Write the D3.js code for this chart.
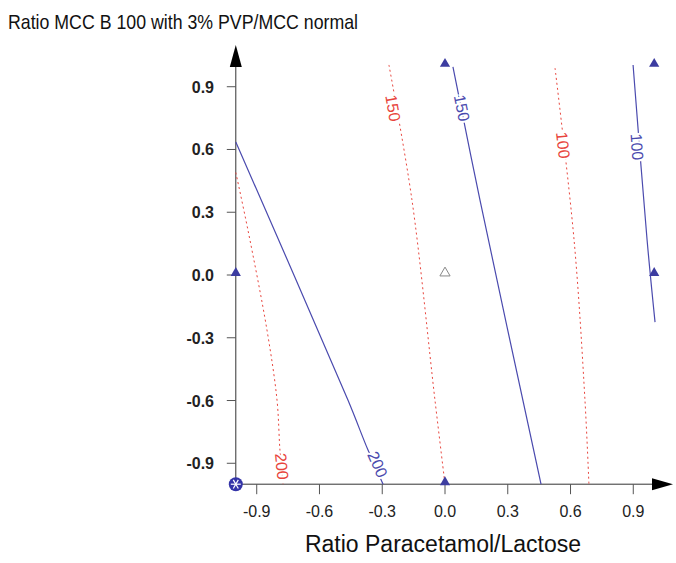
<!DOCTYPE html>
<html>
<head>
<meta charset="utf-8">
<script src="https://cdn.jsdelivr.net/npm/d3@7"></script>
<style>
  body { margin: 0; background: #fff; }
  svg { display: block; font-family: "Liberation Sans", Arial, sans-serif; }
</style>
</head>
<body>
<div id="chart"></div>
<script>
// Axis ticks
const xTicks = [-0.9, -0.6, -0.3, 0.0, 0.3, 0.6, 0.9];
const yTicks = [-0.9, -0.6, -0.3, 0.0, 0.3, 0.6, 0.9];

// Contour lines: [x, y] in data units
const blue200 = [[-1.0, 0.636], [-0.464, -0.598], [-0.368, -0.837], [-0.296, -1.0]];
const blue150 = [[0.038, 0.995], [0.167, 0.359], [0.459, -1.0]];
const blue100 = [[0.899, 1.004], [0.966, 0.167], [1.004, -0.225]];
const red200 = [[-1.0, 0.49], [-0.942, 0.215], [-0.851, -0.263], [-0.803, -0.598], [-0.789, -0.837], [-0.774, -1.0]];
const red150 = [[-0.268, 1.004], [-0.158, 0.359], [-0.048, -0.598], [0.0, -1.0]];
const red100 = [[0.526, 0.989], [0.617, 0.167], [0.669, -0.598], [0.688, -1.0]];

// Contour labels: value, position on the line
const blueLabels = [["200", -0.322, -0.905], ["150", 0.081, 0.798], ["100", 0.918, 0.612]];
const redLabels = [["200", -0.78, -0.915], ["150", -0.249, 0.798], ["100", 0.564, 0.621]];

// Design points
const filledPoints = [[0, 1], [1, 1], [1, 0], [-1, 0], [0, -1]];
const openPoints = [[0, 0]];
const centrePoints = [[-1, -1]];

document.addEventListener('DOMContentLoaded', function() {
    const W = 676, H = 563;
    const blue = "#4a4aae", red = "#e8443c";
    const fmt = d => d3.format(".1f")(d).replace("\u2212", "-");

    const svg = d3.select("#chart").append("svg")
        .attr("width", W).attr("height", H);

    const x = d3.scaleLinear().domain([-1, 1]).range([235.8, 654.2]);
    const y = d3.scaleLinear().domain([-1, 1]).range([484.2, 65.8]);

    // Title
    svg.append("text")
        .attr("x", 8).attr("y", 29)
        .attr("font-size", 21)
        .attr("textLength", 350).attr("lengthAdjust", "spacingAndGlyphs")
        .attr("fill", "#111")
        .text("Ratio MCC B 100 with 3% PVP/MCC normal");

    // Axes
    const axisG = svg.append("g").attr("stroke", "#333").attr("stroke-width", 1);
    axisG.append("line").attr("x1", x(-1)).attr("x2", 656).attr("y1", y(-1)).attr("y2", y(-1));
    axisG.append("line").attr("x1", x(-1)).attr("x2", x(-1)).attr("y1", y(-1)).attr("y2", 66);
    svg.append("path")
        .attr("d", `M${x(-1)},45 L${x(-1) - 6},67 L${x(-1) + 6},67 Z`)
        .attr("fill", "#000");
    svg.append("path")
        .attr("d", `M673,${y(-1)} L652,${y(-1) - 6} L652,${y(-1) + 6} Z`)
        .attr("fill", "#000");

    svg.selectAll(".xt").data(xTicks).enter().append("line")
        .attr("x1", d => x(d)).attr("x2", d => x(d))
        .attr("y1", y(-1)).attr("y2", y(-1) + 10)
        .attr("stroke", "#555");
    svg.selectAll(".xl").data(xTicks).enter().append("text")
        .attr("x", d => x(d)).attr("y", 517)
        .attr("text-anchor", "middle")
        .attr("font-size", 16).attr("fill", "#222")
        .text(fmt);

    svg.selectAll(".yt").data(yTicks).enter().append("line")
        .attr("x1", x(-1) - 9).attr("x2", x(-1))
        .attr("y1", d => y(d)).attr("y2", d => y(d))
        .attr("stroke", "#555");
    svg.selectAll(".yl").data(yTicks).enter().append("text")
        .attr("x", 214).attr("y", d => y(d) + 6)
        .attr("text-anchor", "end")
        .attr("font-size", 16).attr("font-weight", "bold").attr("fill", "#222")
        .text(fmt);

    svg.append("text")
        .attr("x", 443).attr("y", 552)
        .attr("text-anchor", "middle")
        .attr("font-size", 23).attr("fill", "#111")
        .text("Ratio Paracetamol/Lactose");

    // Contours
    const line = d3.line().x(d => x(d[0])).y(d => y(d[1])).curve(d3.curveCatmullRom);

    [blue200, blue150, blue100].forEach(function(pts) {
        svg.append("path").attr("d", line(pts))
            .attr("fill", "none").attr("stroke", blue).attr("stroke-width", 1.2);
    });
    [red200, red150, red100].forEach(function(pts) {
        svg.append("path").attr("d", line(pts))
            .attr("fill", "none").attr("stroke", red).attr("stroke-width", 1)
            .attr("stroke-dasharray", "2,3");
    });

    function angleAt(pts, px, py) {
        let best = 0, bd = Infinity;
        for (let i = 0; i < pts.length - 1; i++) {
            const mx = (x(pts[i][0]) + x(pts[i + 1][0])) / 2, my = (y(pts[i][1]) + y(pts[i + 1][1])) / 2;
            const dd = (mx - px) ** 2 + (my - py) ** 2;
            if (dd < bd) { bd = dd; best = i; }
        }
        const dx = x(pts[best + 1][0]) - x(pts[best][0]);
        const dy = y(pts[best + 1][1]) - y(pts[best][1]);
        return Math.atan2(dy, dx) * 180 / Math.PI;
    }

    function drawLabels(labels, lines, colour) {
        labels.forEach(function(l, i) {
            const px = x(l[1]), py = y(l[2]);
            const a = angleAt(lines[i], px, py);
            svg.append("text")
                .attr("transform", `translate(${px},${py}) rotate(${a})`)
                .attr("text-anchor", "middle").attr("dy", "0.35em")
                .attr("font-size", 16)
                .attr("fill", colour)
                .attr("stroke", "#fff").attr("stroke-width", 4)
                .attr("paint-order", "stroke")
                .text(l[0]);
        });
    }
    drawLabels(blueLabels, [blue200, blue150, blue100], blue);
    drawLabels(redLabels, [red200, red150, red100], red);

    // Design points
    const tri = d3.symbol().type(d3.symbolTriangle).size(45);
    svg.selectAll(".fp").data(filledPoints).enter().append("path")
        .attr("d", tri)
        .attr("transform", d => `translate(${x(d[0])},${y(d[1]) - 2})`)
        .attr("fill", "#3c3ca0");
    svg.selectAll(".op").data(openPoints).enter().append("path")
        .attr("d", tri)
        .attr("transform", d => `translate(${x(d[0])},${y(d[1]) - 2})`)
        .attr("fill", "none").attr("stroke", "#888").attr("stroke-width", 1);
    centrePoints.forEach(function(d) {
        const g = svg.append("g").attr("transform", `translate(${x(d[0])},${y(d[1])})`);
        g.append("circle").attr("r", 7).attr("fill", "#3434a8");
        [0, 60, 120].forEach(function(r) {
            g.append("line").attr("x1", -5).attr("x2", 5)
                .attr("transform", `rotate(${r})`)
                .attr("stroke", "#fff").attr("stroke-width", 1.2);
        });
    });
});
</script>
</body>
</html>
